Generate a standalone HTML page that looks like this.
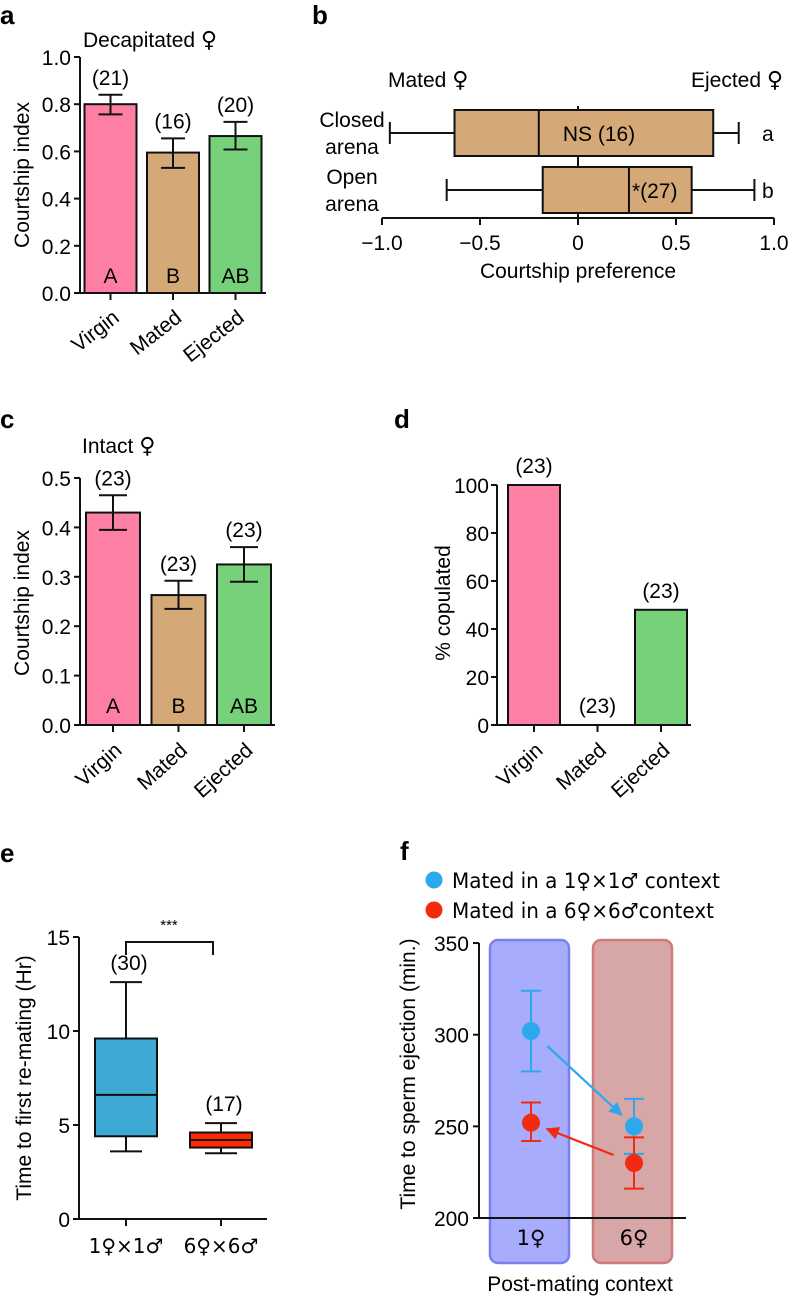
<!DOCTYPE html>
<html><head><meta charset="utf-8"><style>
html,body{margin:0;padding:0;background:#fff}
svg{display:block;font-family:"Liberation Sans","DejaVu Sans",Arial,sans-serif}
</style></head><body>
<svg id="fig" xmlns="http://www.w3.org/2000/svg" width="788" height="1298" viewBox="0 0 788 1298">
<g font-weight="bold" font-size="26" fill="#000">
<text x="0" y="24">a</text>
<text x="312" y="24">b</text>
<text x="0" y="428">c</text>
<text x="394" y="428">d</text>
<text x="0" y="862">e</text>
<text x="400" y="860">f</text>
</g>
<g font-size="21" fill="#000">
<text x="83" y="47">Decapitated <tspan font-family="DejaVu Sans" font-size="22">♀</tspan></text>
<text transform="translate(29,175) rotate(-90)" text-anchor="middle">Courtship index</text>
<text x="388" y="87">Mated <tspan font-family="DejaVu Sans" font-size="22">♀</tspan></text>
<text x="783" y="87" text-anchor="end">Ejected <tspan font-family="DejaVu Sans" font-size="22">♀</tspan></text>
<text x="578" y="278" text-anchor="middle">Courtship preference</text>
<text x="82" y="453">Intact <tspan font-family="DejaVu Sans" font-size="22">♀</tspan></text>
<text transform="translate(29,603) rotate(-90)" text-anchor="middle">Courtship index</text>
<text transform="translate(450,603) rotate(-90)" text-anchor="middle">% copulated</text>
<text transform="translate(31,1078) rotate(-90)" text-anchor="middle">Time to first re-mating (Hr)</text>
<text transform="translate(415,1074) rotate(-90)" text-anchor="middle">Time to sperm ejection (min.)</text>
<text x="580" y="1291" text-anchor="middle">Post-mating context</text>
</g>
</svg>
<script>
// Panel a data
const aCats=['Virgin','Mated','Ejected'];
const aMeans=[0.80,0.595,0.665];
const aErrLo=[0.757,0.53,0.608];
const aErrHi=[0.84,0.655,0.725];
const aN=['(21)','(16)','(20)'];
const aLetters=['A','B','AB'];
const aTicks=[0,0.2,0.4,0.6,0.8,1.0];
const aTickLabels=['0.0','0.2','0.4','0.6','0.8','1.0'];
// Panel b data
const bRows=['Closed arena','Open arena'];
const bMin=[-0.96,-0.67];
const bQ1=[-0.63,-0.18];
const bMed=[-0.2,0.26];
const bQ3=[0.69,0.58];
const bMax=[0.82,0.9];
const bInside=['NS (16)','*(27)'];
const bLetters=['a','b'];
const bTicks=[-1,-0.5,0,0.5,1];
const bTickLabels=['\u22121.0','\u22120.5','0','0.5','1.0'];
// Panel c data
const cCats=['Virgin','Mated','Ejected'];
const cMeans=[0.43,0.263,0.325];
const cErrLo=[0.395,0.235,0.29];
const cErrHi=[0.465,0.292,0.36];
const cN=['(23)','(23)','(23)'];
const cLetters=['A','B','AB'];
const cTicks=[0,0.1,0.2,0.3,0.4,0.5];
const cTickLabels=['0.0','0.1','0.2','0.3','0.4','0.5'];
// Panel d data
const dCats=['Virgin','Mated','Ejected'];
const dValues=[100,0,48];
const dN=['(23)','(23)','(23)'];
const dTicks=[0,20,40,60,80,100];
// Panel e data
const eCats=['1♀×1♂','6♀×6♂'];
const eMin=[3.6,3.5];
const eQ1=[4.4,3.8];
const eMed=[6.6,4.2];
const eQ3=[9.6,4.6];
const eMax=[12.6,5.1];
const eN=['(30)','(17)'];
const eTicks=[0,5,10,15];
// Panel f data
const fCats=['1♀','6♀'];
const fSeriesNames=['Mated in a 1♀×1♂ context','Mated in a 6♀×6♂context'];
const fBlue=[302,250];
const fBlueLo=[280,235];
const fBlueHi=[324,265];
const fRed=[252,230];
const fRedLo=[242,216];
const fRedHi=[263,244];
const fTicks=[200,250,300,350];

const NS='http://www.w3.org/2000/svg';
const svg=document.getElementById('fig');
function mk(tag,attrs,parent){const e=document.createElementNS(NS,tag);for(const k in attrs)e.setAttribute(k,attrs[k]);(parent||svg).appendChild(e);return e;}
function tx(x,y,s,attrs){const e=mk('text',Object.assign({x:x,y:y,'font-size':21,fill:'#000'},attrs||{}));e.textContent=s;return e;}
const SK={stroke:'#111','stroke-width':2,fill:'none'};

const defs=mk('defs',{});
function marker(id,color){const m=mk('marker',{id:id,viewBox:'0 0 10 10',refX:9,refY:5,markerWidth:6,markerHeight:6,orient:'auto'},defs);mk('path',{d:'M0,0 L10,5 L0,10 z',fill:color},m);}
marker('arrB','#2ea8ec');marker('arrR','#f22a10');

// ---------- Panel a ----------
const ya=v=>293-v*236;
const xa=i=>110.5+i*62.5;
let el;
el=mk('line',Object.assign({x1:80,y1:57,x2:80,y2:293},SK));


el=mk('line',Object.assign({x1:80,y1:293,x2:266,y2:293},SK));


aTicks.forEach((t,i)=>{
  el=mk('line',Object.assign({x1:74,y1:ya(t),x2:80,y2:ya(t)},SK));
  
  
  el=tx(71,ya(t)+8,aTickLabels[i],{'text-anchor':'end'});
  
  
});
aCats.forEach((c,i)=>{
  const cx=xa(i);
  el=mk('rect',{x:cx-26,y:ya(aMeans[i]),width:52,height:ya(0)-ya(aMeans[i]),fill:['#fd7fa4','#d4a877','#77d17a'][i],stroke:'#111','stroke-width':2});
  
  
  el=mk('path',Object.assign({d:`M${cx-12},${ya(aErrHi[i])}H${cx+12}M${cx},${ya(aErrHi[i])}V${ya(aErrLo[i])}M${cx-12},${ya(aErrLo[i])}H${cx+12}`},SK));
  
  
  el=tx(cx,ya(aErrHi[i])-10,aN[i],{'text-anchor':'middle'});
  
  
  el=tx(cx,283,aLetters[i],{'text-anchor':'middle'});
  
  
  el=mk('line',Object.assign({x1:cx,y1:293,x2:cx,y2:300},SK));
  
  
  el=tx(0,0,c,{'text-anchor':'end',transform:`translate(${cx+10},${320}) rotate(-38)`});
  
  
});

// ---------- Panel b ----------
const xb=v=>578+v*196;
const yb=i=>133+i*57;
el=mk('line',Object.assign({x1:xb(0),y1:106,x2:xb(0),y2:218},SK));


el=mk('line',Object.assign({x1:xb(-1),y1:218,x2:xb(1),y2:218},SK));


bTicks.forEach((t,i)=>{
  el=mk('line',Object.assign({x1:xb(t),y1:218,x2:xb(t),y2:225},SK));
  
  
  el=tx(xb(t),250,bTickLabels[i],{'text-anchor':'middle'});
  
  
});
bRows.forEach((r,i)=>{
  const cy=yb(i);
  el=mk('path',Object.assign({d:`M${xb(bMin[i])},${cy-11}V${cy+11}M${xb(bMin[i])},${cy}H${xb(bQ1[i])}M${xb(bQ3[i])},${cy}H${xb(bMax[i])}M${xb(bMax[i])},${cy-11}V${cy+11}`},SK));
  
  
  el=mk('rect',{x:xb(bQ1[i]),y:cy-23,width:xb(bQ3[i])-xb(bQ1[i]),height:46,fill:'#d4a877',stroke:'#111','stroke-width':2});
  
  
  el=mk('line',Object.assign({x1:xb(bMed[i]),y1:cy-23,x2:xb(bMed[i]),y2:cy+23},SK));
  
  
  el=tx(i?xb(bMed[i])+3:599,cy+8,bInside[i],{'text-anchor':i?'start':'middle'});
  
  
  el=tx(762,cy+8,bLetters[i]);
  
  
  const parts=r.split(' ');
  el=tx(352,cy-6,parts[0],{'text-anchor':'middle'});
  
  
  el=tx(352,cy+21,parts[1],{'text-anchor':'middle'});
  
  
});

// ---------- Panel c ----------
const yc=v=>725-v*494;
const xc=i=>113+i*65.5;
el=mk('line',Object.assign({x1:80,y1:478,x2:80,y2:725},SK));


el=mk('line',Object.assign({x1:80,y1:725,x2:275,y2:725},SK));


cTicks.forEach((t,i)=>{
  el=mk('line',Object.assign({x1:74,y1:yc(t),x2:80,y2:yc(t)},SK));
  
  
  el=tx(71,yc(t)+8,cTickLabels[i],{'text-anchor':'end'});
  
  
});
cCats.forEach((c,i)=>{
  const cx=xc(i);
  el=mk('rect',{x:cx-27,y:yc(cMeans[i]),width:54,height:yc(0)-yc(cMeans[i]),fill:['#fd7fa4','#d4a877','#77d17a'][i],stroke:'#111','stroke-width':2});
  
  
  el=mk('path',Object.assign({d:`M${cx-14},${yc(cErrHi[i])}H${cx+14}M${cx},${yc(cErrHi[i])}V${yc(cErrLo[i])}M${cx-14},${yc(cErrLo[i])}H${cx+14}`},SK));
  
  
  el=tx(cx,yc(cErrHi[i])-10,cN[i],{'text-anchor':'middle'});
  
  
  el=tx(cx,713,cLetters[i],{'text-anchor':'middle'});
  
  
  el=mk('line',Object.assign({x1:cx,y1:725,x2:cx,y2:732},SK));
  
  
  el=tx(0,0,c,{'text-anchor':'end',transform:`translate(${cx+10},${752}) rotate(-42)`});
  
  
});

// ---------- Panel d ----------
const yd=v=>725-v*2.4;
const xd=i=>534+i*63.5;
el=mk('line',Object.assign({x1:497,y1:485,x2:497,y2:725},SK));


el=mk('line',Object.assign({x1:497,y1:725,x2:691,y2:725},SK));


dTicks.forEach(t=>{
  el=mk('line',Object.assign({x1:491,y1:yd(t),x2:497,y2:yd(t)},SK));
  
  
  el=tx(489,yd(t)+8,String(t),{'text-anchor':'end'});
  
  
});
dCats.forEach((c,i)=>{
  const cx=xd(i);
  if(dValues[i]>0){
    el=mk('rect',{x:cx-26,y:yd(dValues[i]),width:52,height:yd(0)-yd(dValues[i]),fill:['#fd7fa4','#d4a877','#77d17a'][i],stroke:'#111','stroke-width':2});
    
    
  }
  el=tx(cx,yd(dValues[i])-12,dN[i],{'text-anchor':'middle'});
  
  
  el=mk('line',Object.assign({x1:cx,y1:725,x2:cx,y2:732},SK));
  
  
  el=tx(0,0,c,{'text-anchor':'end',transform:`translate(${cx+10},${752}) rotate(-42)`});
  
  
});

// ---------- Panel e ----------
const ye=v=>1219-v*18.8;
const xe=i=>126+i*95;
el=mk('line',Object.assign({x1:79,y1:ye(15),x2:79,y2:1219},SK));


el=mk('line',Object.assign({x1:79,y1:1219,x2:267,y2:1219},SK));


eTicks.forEach(t=>{
  el=mk('line',Object.assign({x1:73,y1:ye(t),x2:79,y2:ye(t)},SK));
  
  
  el=tx(70,ye(t)+8,String(t),{'text-anchor':'end'});
  
  
});
eCats.forEach((c,i)=>{
  const cx=xe(i);
  el=mk('path',Object.assign({d:`M${cx-16},${ye(eMax[i])}H${cx+16}M${cx},${ye(eMax[i])}V${ye(eQ3[i])}M${cx},${ye(eQ1[i])}V${ye(eMin[i])}M${cx-16},${ye(eMin[i])}H${cx+16}`},SK));
  
  
  el=mk('rect',{x:cx-31,y:ye(eQ3[i]),width:62,height:ye(eQ1[i])-ye(eQ3[i]),fill:i?'#ff2a00':'#3fa9d5',stroke:'#111','stroke-width':2});
  
  
  el=mk('line',Object.assign({x1:cx-31,y1:ye(eMed[i]),x2:cx+31,y2:ye(eMed[i])},SK));
  
  
  el=tx(cx+3,ye(eMax[i])-12,eN[i],{'text-anchor':'middle'});
  
  
  el=mk('line',Object.assign({x1:cx,y1:1219,x2:cx,y2:1226},SK));
  
  
  el=tx(cx,1253,c,{'text-anchor':'middle','font-family':'DejaVu Sans','font-size':20});
  
  
});
el=mk('path',Object.assign({d:`M${xe(0)},955V942H${xe(1)-8}V955`},SK));


el=tx(169,930,'***',{'text-anchor':'middle','font-size':15});



// ---------- Panel f ----------
const yf=v=>1218-(v-200)*1.833;
const xf=i=>531+i*103;
el=mk('rect',{x:490,y:940,width:79,height:323,rx:8,fill:'#a7acfc',stroke:'#7b7ff0','stroke-width':2.5});


el=mk('rect',{x:593,y:940,width:79,height:323,rx:8,fill:'#d7a6a6',stroke:'#d07a7a','stroke-width':2.5});


el=mk('line',Object.assign({x1:479,y1:yf(350),x2:479,y2:1218},SK));


el=mk('line',Object.assign({x1:479,y1:1218,x2:686,y2:1218},SK));


fTicks.forEach(t=>{
  el=mk('line',Object.assign({x1:473,y1:yf(t),x2:479,y2:yf(t)},SK));
  
  
  el=tx(469,yf(t)+8,String(t),{'text-anchor':'end'});
  
  
});
fCats.forEach((c,i)=>{
  el=tx(xf(i),1245,c,{'text-anchor':'middle','font-family':'DejaVu Sans','font-size':21});
  
  
});
function arrow(x1,y1,x2,y2,color,id){
  const dx=x2-x1,dy=y2-y1,L=Math.hypot(dx,dy),ux=dx/L,uy=dy/L;
  return mk('line',{x1:x1+ux*22,y1:y1+uy*22,x2:x2-ux*17,y2:y2-uy*17,stroke:color,'stroke-width':2.2,'marker-end':`url(#${id})`});
}
el=arrow(xf(0),yf(fBlue[0]),xf(1),yf(fBlue[1]),'#2ea8ec','arrB');


el=arrow(xf(1),yf(fRed[1]),xf(0),yf(fRed[0]),'#f22a10','arrR');


function series(vals,lo,hi,color,name){
  vals.forEach((v,i)=>{
    const cx=xf(i);
    el=mk('path',{d:`M${cx-10},${yf(hi[i])}H${cx+10}M${cx},${yf(hi[i])}V${yf(lo[i])}M${cx-10},${yf(lo[i])}H${cx+10}`,stroke:color,'stroke-width':2,fill:'none'});
    
    
    el=mk('circle',{cx:cx,cy:yf(v),r:9,fill:color});
    
    
  });
}
series(fBlue,fBlueLo,fBlueHi,'#2ea8ec','blue');
series(fRed,fRedLo,fRedHi,'#f22a10','red');
el=mk('circle',{cx:434,cy:880,r:8.5,fill:'#2ea8ec'});


el=tx(452,888,fSeriesNames[0],{textLength:268,lengthAdjust:'spacingAndGlyphs','font-family':'DejaVu Sans'});


el=mk('circle',{cx:434,cy:910,r:8.5,fill:'#f22a10'});


el=tx(452,918,fSeriesNames[1],{textLength:262,lengthAdjust:'spacingAndGlyphs','font-family':'DejaVu Sans'});


</script>
</body></html>
